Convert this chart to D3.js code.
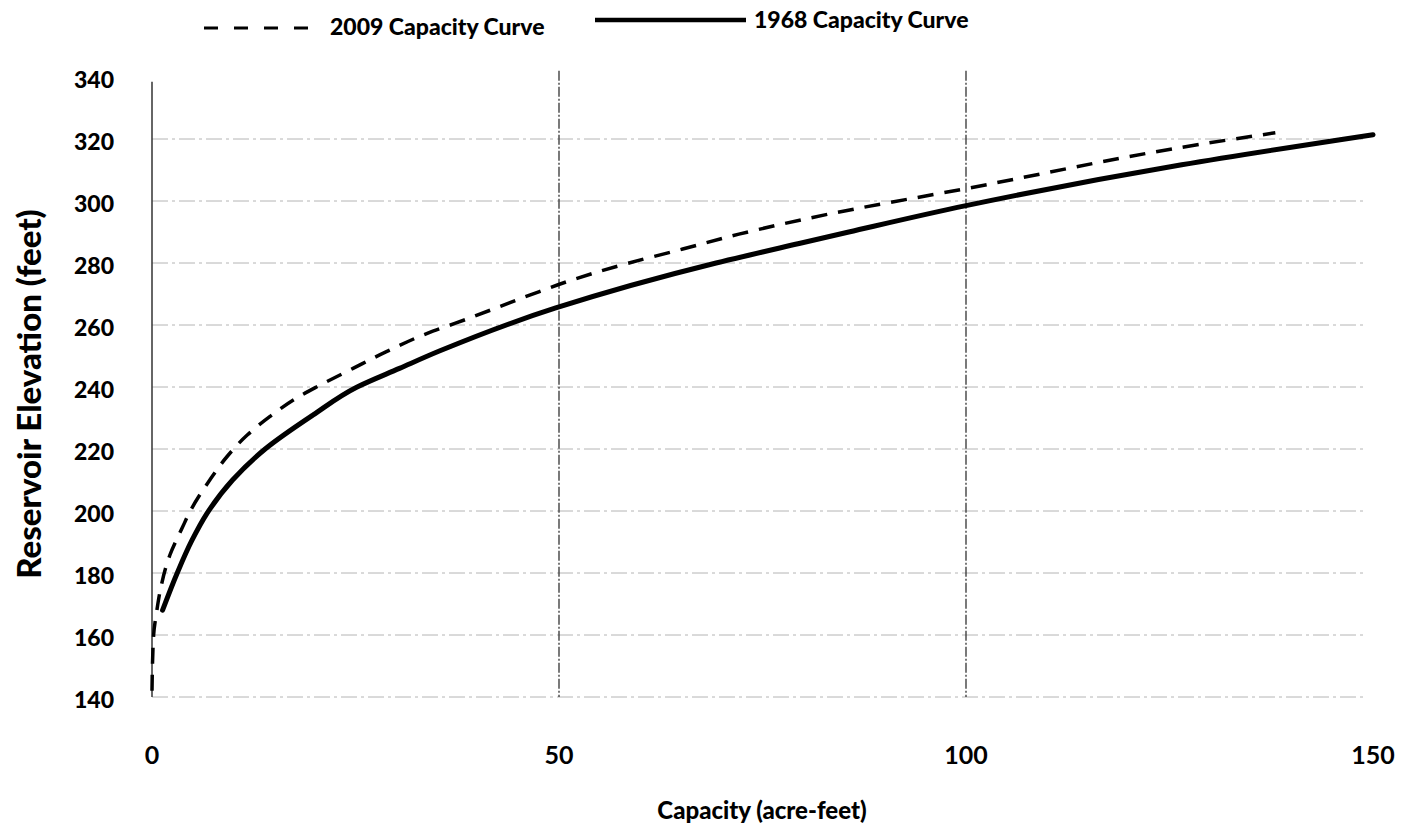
<!DOCTYPE html>
<html lang="en">
<head>
<meta charset="UTF-8">
<title>Capacity Curves</title>
<style>
  body { margin: 0; background: #fff; }
  text { font-family: Lato, "Open Sans", sans-serif; fill: #000; }
</style>
</head>
<body>
<div id="chart"></div>
<script src="https://d3js.org/d3.v7.min.js"></script>
<script>
// 1968 survey
const capacity1968 = [1.3, 3.1, 4.9, 6.7, 9.9, 13.9, 19.8, 25.2, 30.4, 35.3, 49.6, 69.3, 79.5, 85.6, 100, 126.5, 150];
const elev1968 = [168, 180, 190.5, 199, 210, 220, 231, 240, 246, 251.6, 265.5, 280, 286.3, 290, 298.5, 311.7, 321.4];

// 2009 survey
const capacity2009 = [0, 0.2, 0.6, 1, 2.2, 3.7, 4.7, 7.1, 9.2, 11.7, 14.5, 17.8, 20.2, 24.7, 28.8, 34.5, 37.2, 47.6, 51, 58.3, 65.2, 72.1, 82.8, 100, 128.8, 138];
const elev2009 = [142, 160, 168, 174.2, 185.8, 194.5, 200, 210, 217.5, 224.5, 230.5, 236.5, 240, 246, 251.4, 258, 260.5, 270.8, 274, 279.8, 284.5, 289.3, 295.6, 304, 318.3, 322];

const xTicks = [0, 50, 100, 150];
const yTicks = [140, 160, 180, 200, 220, 240, 260, 280, 300, 320, 340];
const xGrid = [50, 100];
const yGrid = [140, 160, 180, 200, 220, 240, 260, 280, 300, 320];

const W = 1401, H = 829;
const svg = d3.select("#chart").append("svg")
    .attr("width", W)
    .attr("height", H);

const x = d3.scaleLinear().domain([0, 150]).range([152, 1373]);
const y = d3.scaleLinear().domain([140, 340]).range([697, 77]);

// horizontal gridlines
svg.append("g")
  .selectAll("line")
  .data(yGrid)
  .join("line")
    .attr("x1", x(0))
    .attr("x2", x(150) - 6)
    .attr("y1", d => y(d))
    .attr("y2", d => y(d))
    .attr("stroke", "#b4b4b4")
    .attr("stroke-width", 1)
    .attr("stroke-dasharray", "16,4,3,4");

// vertical gridlines
svg.append("g")
  .selectAll("line")
  .data(xGrid)
  .join("line")
    .attr("x1", d => x(d))
    .attr("x2", d => x(d))
    .attr("y1", y(342))
    .attr("y2", y(140))
    .attr("stroke", "#333")
    .attr("stroke-width", 1.3)
    .attr("stroke-dasharray", "10,2,2,2");

// y axis line
svg.append("line")
    .attr("x1", x(0)).attr("x2", x(0))
    .attr("y1", y(338.5)).attr("y2", y(140))
    .attr("stroke", "#333")
    .attr("stroke-width", 1.5);

// tick labels
svg.append("g")
  .selectAll("text")
  .data(yTicks)
  .join("text")
    .attr("x", 114)
    .attr("y", d => y(d) + 11)
    .attr("text-anchor", "end")
    .attr("font-size", 23)
    .attr("font-weight", "900")
    .text(d => d);

svg.append("g")
  .selectAll("text")
  .data(xTicks)
  .join("text")
    .attr("x", d => x(d))
    .attr("y", 764)
    .attr("text-anchor", "middle")
    .attr("font-size", 25)
    .attr("font-weight", "bold")
    .text(d => d);

// axis titles
svg.append("text")
    .attr("transform", `translate(41,${(y(140) + y(340)) / 2 + 7}) rotate(-90)`)
    .attr("text-anchor", "middle")
    .attr("font-size", 33)
    .attr("font-weight", "900")
    .text("Reservoir Elevation (feet)");

svg.append("text")
    .attr("x", 762)
    .attr("y", 819)
    .attr("text-anchor", "middle")
    .attr("font-size", 24)
    .attr("font-weight", "900")
    .text("Capacity (acre-feet)");

// curves
const line = d3.line()
    .x(d => x(d[0]))
    .y(d => y(d[1]))
    .curve(d3.curveMonotoneY);

svg.append("path")
    .datum(d3.zip(capacity2009, elev2009))
    .attr("d", line)
    .attr("fill", "none")
    .attr("stroke", "#000")
    .attr("stroke-width", 3.5)
    .attr("stroke-dasharray", "16,11");

svg.append("path")
    .datum(d3.zip(capacity1968, elev1968))
    .attr("d", line)
    .attr("fill", "none")
    .attr("stroke", "#000")
    .attr("stroke-width", 5)
    .attr("stroke-linecap", "round");

// legend
const legend = svg.append("g");
legend.append("line")
    .attr("x1", 204).attr("x2", 318)
    .attr("y1", 28).attr("y2", 28)
    .attr("stroke", "#000")
    .attr("stroke-width", 3)
    .attr("stroke-dasharray", "14,16");
legend.append("text")
    .attr("x", 330).attr("y", 35)
    .attr("font-size", 23)
    .attr("font-weight", "900")
    .text("2009 Capacity Curve");
legend.append("line")
    .attr("x1", 595).attr("x2", 746)
    .attr("y1", 20).attr("y2", 20)
    .attr("stroke", "#000")
    .attr("stroke-width", 4.5);
legend.append("text")
    .attr("x", 754).attr("y", 28)
    .attr("font-size", 23)
    .attr("font-weight", "900")
    .text("1968 Capacity Curve");
</script>
</body>
</html>
